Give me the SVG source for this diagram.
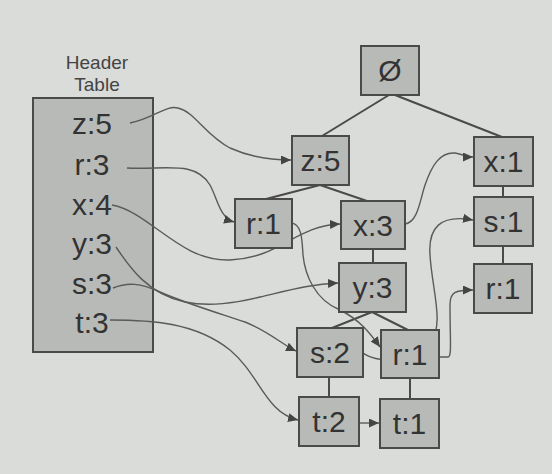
<svg xmlns="http://www.w3.org/2000/svg" width="552" height="474" viewBox="0 0 552 474">
<style>
.bg{fill:#dadcd9}
.box{fill:#b8bab7;stroke:#4a4a4a;stroke-width:2}
.t{font-family:"Liberation Sans",Arial,sans-serif;font-size:30px;fill:#333;text-anchor:middle}
.h{font-family:"Liberation Sans",Arial,sans-serif;font-size:19px;fill:#444;text-anchor:middle}
.edge{stroke:#4a4a4a;stroke-width:2;fill:none}
.link{stroke:#5a5a5a;stroke-width:1.4;fill:none;marker-end:url(#ah)}
</style>
<defs>
<marker id="ah" markerWidth="11" markerHeight="9" refX="10" refY="4.5" orient="auto" markerUnits="userSpaceOnUse">
<path d="M0,0 L10,4.5 L0,9 Z" fill="#444"/>
</marker>
</defs>
<rect class="bg" x="0" y="0" width="552" height="474"/>

<g id="header-table">
<text class="h" x="97" y="69">Header</text>
<text class="h" x="97" y="91">Table</text>
<rect class="box" x="33" y="98" width="120" height="254"/>
<text class="t" x="92" y="134">z:5</text>
<text class="t" x="92" y="175">r:3</text>
<text class="t" x="92" y="215">x:4</text>
<text class="t" x="92" y="254">y:3</text>
<text class="t" x="92" y="294">s:3</text>
<text class="t" x="92" y="333">t:3</text>
</g>

<g id="edges">
<line class="edge" x1="389" y1="95" x2="322" y2="136"/>
<line class="edge" x1="395" y1="95" x2="502" y2="137"/>
<line class="edge" x1="320" y1="185" x2="266" y2="199"/>
<line class="edge" x1="320" y1="185" x2="367" y2="201"/>
<line class="edge" x1="503" y1="186" x2="503" y2="197"/>
<line class="edge" x1="503" y1="246" x2="503" y2="264"/>
<line class="edge" x1="373" y1="249" x2="373" y2="263"/>
<line class="edge" x1="372" y1="312" x2="332" y2="328"/>
<line class="edge" x1="372" y1="312" x2="408" y2="330"/>
<line class="edge" x1="329" y1="377" x2="329" y2="397"/>
<line class="edge" x1="410" y1="378" x2="410" y2="399"/>
</g>

<g id="links">
<path class="link" d="M130,123 C155,118 165,105 178,108 C195,112 205,135 230,148 C250,157 270,160 291,160"/>
<path class="link" d="M127,168 C165,170 195,160 210,185 C218,200 220,218 234,222"/>
<path class="link" d="M112,205 C150,212 180,262 230,260 C280,258 295,226 340,224"/>
<path class="link" d="M116,247 C130,268 148,294 185,302 C210,307 235,303 260,297 C290,290 312,284 338,283"/>
<path class="link" d="M113,288 C128,282 140,283 160,292 C185,303 215,312 245,322 C268,331 283,345 296,351"/>
<path class="link" d="M110,320 C150,320 195,322 230,350 C260,375 265,412 298,420"/>
<path class="link" d="M405,224 C418,222 420,200 425,185 C432,165 440,152 455,153 C462,154 466,157 473,157"/>
<path class="link" d="M292,223 C302,225 302,240 303,255 C305,275 315,300 340,310 C360,320 370,333 380,347"/>
<path class="link" d="M363,353 C375,362 410,366 430,343 C445,325 432,290 430,255 C428,228 440,214 473,220"/>
<path class="link" d="M439,357 L448,357 C452,357 450,340 450,305 C450,292 455,290 473,290"/>
<path class="link" d="M359,423 L379,423"/>
</g>

<g id="root"><rect class="box" x="361" y="46" width="58" height="49"/><text class="t" x="390" y="81">Ø</text></g>
<g id="z5"><rect class="box" x="292" y="136" width="57" height="49"/><text class="t" x="320.5" y="171">z:5</text></g>
<g id="x1"><rect class="box" x="474" y="137" width="59" height="49"/><text class="t" x="503.5" y="172">x:1</text></g>
<g id="r1a"><rect class="box" x="235" y="199" width="57" height="49"/><text class="t" x="263.5" y="234">r:1</text></g>
<g id="x3"><rect class="box" x="341" y="201" width="64" height="48"/><text class="t" x="373" y="235.5">x:3</text></g>
<g id="s1"><rect class="box" x="474" y="197" width="59" height="49"/><text class="t" x="503.5" y="232">s:1</text></g>
<g id="y3"><rect class="box" x="339" y="263" width="67" height="49"/><text class="t" x="372.5" y="298">y:3</text></g>
<g id="r1c"><rect class="box" x="474" y="264" width="58" height="49"/><text class="t" x="503" y="299">r:1</text></g>
<g id="s2"><rect class="box" x="297" y="328" width="66" height="49"/><text class="t" x="330" y="363">s:2</text></g>
<g id="r1b"><rect class="box" x="381" y="330" width="58" height="48"/><text class="t" x="410" y="364.5">r:1</text></g>
<g id="t2"><rect class="box" x="299" y="397" width="60" height="49"/><text class="t" x="329" y="432">t:2</text></g>
<g id="t1"><rect class="box" x="380" y="399" width="59" height="49"/><text class="t" x="409.5" y="434">t:1</text></g>
</svg>
